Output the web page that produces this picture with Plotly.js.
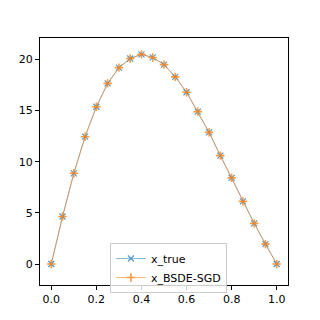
<!DOCTYPE html>
<html>
<head>
<meta charset="utf-8">
<script src="https://cdn.plot.ly/plotly-3.0.1.min.js"></script>
<style>
  html, body { margin: 0; padding: 0; background: white; }
  #plot { width: 320px; height: 320px; }
</style>
</head>
<body>
<div id="plot"></div>
<script>
const tValues = [0.0, 0.05, 0.1, 0.15, 0.2, 0.25, 0.3, 0.35, 0.4, 0.45, 0.5,
                 0.55, 0.6, 0.65, 0.7, 0.75, 0.8, 0.85, 0.9, 0.95, 1.0];
const xTrue = [0.0, 4.65, 8.87, 12.45, 15.38, 17.66, 19.2, 20.1, 20.5, 20.2, 19.5,
               18.3, 16.8, 14.9, 12.87, 10.6, 8.42, 6.13, 3.98, 1.95, 0.0];
const xBsdeSgd = [0.0, 4.65, 8.87, 12.45, 15.38, 17.66, 19.2, 20.1, 20.5, 20.2, 19.5,
                  18.3, 16.8, 14.9, 12.87, 10.6, 8.42, 6.13, 3.98, 1.95, 0.0];
const xTicks = [0.0, 0.2, 0.4, 0.6, 0.8, 1.0];
const xTickLabels = ['0.0', '0.2', '0.4', '0.6', '0.8', '1.0'];
const yTicks = [0, 5, 10, 15, 20];

const data = [
  {
    type: 'scatter',
    mode: 'lines+markers',
    x: tValues,
    y: xTrue,
    name: 'x_true',
    opacity: 0.75,
    line: { color: '#1f77b4', width: 0.7 },
    marker: { symbol: 'x-thin-open', size: 6, line: { color: '#1f77b4', width: 1.2 } }
  },
  {
    type: 'scatter',
    mode: 'lines+markers',
    x: tValues,
    y: xBsdeSgd,
    name: 'x_BSDE-SGD',
    opacity: 0.8,
    line: { color: '#ff7f0e', width: 0.7 },
    marker: { symbol: 'cross-thin-open', size: 6, line: { color: '#ff7f0e', width: 1.6 } }
  }
];

const axisStyle = {
  showgrid: false,
  zeroline: false,
  showline: true,
  mirror: true,
  linecolor: 'black',
  linewidth: 1,
  ticks: 'outside',
  ticklen: 4,
  tickcolor: 'black',
  tickfont: { family: 'DejaVu Sans', size: 11, color: 'black' }
};

const layout = {
  width: 320,
  height: 320,
  margin: { l: 40, r: 32, t: 38, b: 35 },
  paper_bgcolor: 'white',
  plot_bgcolor: 'white',
  showlegend: true,
  legend: {
    x: 0.282,
    y: 0.17,
    xanchor: 'left',
    yanchor: 'top',
    bgcolor: 'rgba(255,255,255,0.8)',
    bordercolor: '#cccccc',
    borderwidth: 1,
    font: { family: 'DejaVu Sans', size: 11, color: 'black' },
    tracegroupgap: 0
  },
  xaxis: Object.assign({}, axisStyle, {
    range: [-0.05, 1.05],
    tickvals: xTicks,
    ticktext: xTickLabels
  }),
  yaxis: Object.assign({}, axisStyle, {
    range: [-2.05, 22.1],
    tickvals: yTicks
  })
};

Plotly.newPlot('plot', data, layout, { displayModeBar: false, staticPlot: true });
</script>
</body>
</html>
